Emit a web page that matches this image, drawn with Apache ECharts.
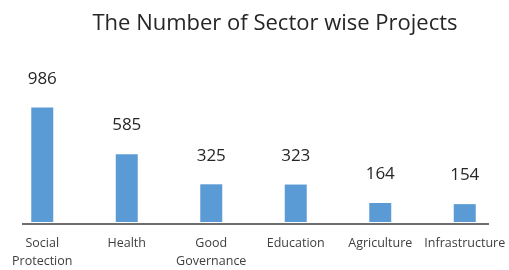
<!DOCTYPE html>
<html>
<head>
<meta charset="utf-8">
<script src="https://cdn.jsdelivr.net/npm/echarts@6/dist/echarts.min.js"></script>
<style>
  html, body { margin: 0; padding: 0; background: #fff; }
  #main { width: 509px; height: 270px; }
</style>
</head>
<body>
<div id="main"></div>
<script>
// 数据
var sectors = ['Social\nProtection', 'Health', 'Good\nGovernance', 'Education', 'Agriculture', 'Infrastructure'];
var projects = [986, 585, 325, 323, 164, 154];

var chart = echarts.init(document.getElementById('main'));
var font = '"Open Sans", sans-serif';

var option = {
    animation: false,
    title: {
        text: 'The Number of Sector wise Projects',
        left: 270,
        top: 8,
        textAlign: 'center',
        textStyle: {
            fontFamily: font,
            fontSize: 22,
            fontWeight: 'normal',
            color: '#262626'
        }
    },
    grid: {
        left: -1,
        right: 2,
        top: 106,
        bottom: 46
    },
    xAxis: {
        type: 'category',
        data: sectors,
        axisLine: { show: false },
        axisTick: { show: false },
        axisLabel: {
            interval: 0,
            margin: 12,
            fontFamily: font,
            fontSize: 12.5,
            lineHeight: 18,
            color: '#404040'
        }
    },
    yAxis: {
        type: 'value',
        min: 0,
        max: 1000,
        show: false
    },
    series: [{
        type: 'bar',
        data: projects,
        barWidth: 22,
        itemStyle: { color: '#5b9bd5' },
        label: {
            show: true,
            position: 'top',
            distance: 20,
            fontFamily: font,
            fontSize: 17,
            color: '#262626'
        }
    }],
    // 横轴线（比分类区域短）
    graphic: {
        elements: [{
            type: 'rect',
            z: 100,
            shape: { x: 22, y: 223, width: 467, height: 2 },
            style: { fill: '#6e6e6e' }
        }]
    }
};

chart.setOption(option);
</script>
</body>
</html>
